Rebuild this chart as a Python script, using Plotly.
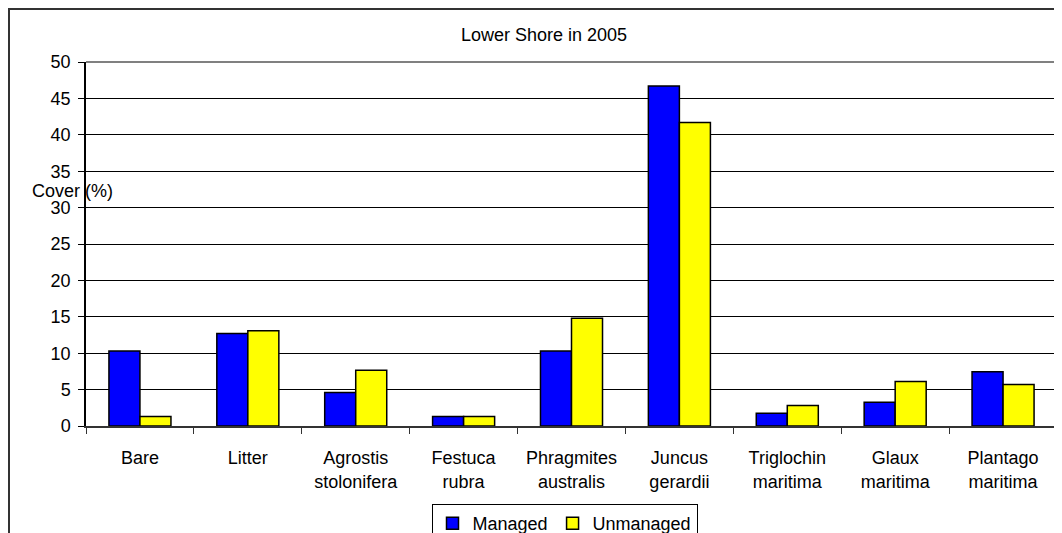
import plotly.graph_objects as go

categories = ["Bare", "Litter", "Agrostis<br>stolonifera", "Festuca<br>rubra",
              "Phragmites<br>australis", "Juncus<br>gerardii", "Triglochin<br>maritima",
              "Glaux<br>maritima", "Plantago<br>maritima"]
managed = [10.3, 12.7, 4.6, 1.3, 10.3, 46.7, 1.75, 3.25, 7.45]
unmanaged = [1.3, 13.1, 7.65, 1.3, 14.8, 41.7, 2.8, 6.1, 5.7]
y_ticks = [0, 5, 10, 15, 20, 25, 30, 35, 40, 45, 50]

FONT = "Liberation Sans, Arial, sans-serif"

O = 8  # page offset of the figure inside the browser window
W, H = 1062, 533
L, T = 86 - O, 62 - O
R = W - (1057 - O)
B = H - (426 - O)
pw, ph = W - L - R, H - T - B

def px_x(px):
    return (px - O - L) / pw

def px_y(py):
    return (H - B - (py - O)) / ph

fig = go.Figure()
fig.add_bar(x=categories, y=managed, name="Managed",
            marker=dict(color="#0000FF", line=dict(color="#000000", width=1.5)))
fig.add_bar(x=categories, y=unmanaged, name="Unmanaged",
            marker=dict(color="#FFFF00", line=dict(color="#000000", width=1.5)))

fig.update_layout(
    width=W, height=H,
    margin=dict(l=L, r=R, t=T, b=B, autoexpand=False),
    paper_bgcolor="white", plot_bgcolor="white",
    font=dict(family=FONT, size=18, color="#000000"),
    barmode="group", bargap=0.425, bargroupgap=0,
    title=dict(text="Lower Shore in 2005", x=px_x(544), xref="paper", xanchor="center",
               y=1 - (35 - O) / H, yref="container", yanchor="middle",
               font=dict(family=FONT, size=18, color="#000000")),
    showlegend=True,
    legend=dict(orientation="h", x=px_x(564.5), xanchor="center", y=px_y(504), yanchor="top",
                bordercolor="#000000", borderwidth=1, bgcolor="white",
                font=dict(family=FONT, size=18, color="#000000"),
                itemwidth=30, traceorder="normal", tracegroupgap=0),
    xaxis=dict(type="category", showgrid=False, showline=True, linecolor="#333333", linewidth=1.5,
               ticks="outside", tickson="boundaries", ticklen=6, tickcolor="#333333",
               tickfont=dict(family=FONT, size=18, color="#000000"), ticklabelstandoff=15),
    yaxis=dict(range=[0, 50], tickvals=y_ticks, showgrid=True, gridcolor="#000000", gridwidth=1,
               showline=True, linecolor="#000000", linewidth=1.5,
               ticks="outside", ticklen=6, tickcolor="#000000", ticklabelstandoff=4,
               tickfont=dict(family=FONT, size=18, color="#000000"), zeroline=False),
)

# plot-area border (grey top and right)
fig.add_shape(type="line", xref="paper", yref="paper", x0=0, x1=1, y0=1, y1=1,
              line=dict(color="#808080", width=2))
fig.add_shape(type="line", xref="paper", yref="paper", x0=1, x1=1, y0=0, y1=1,
              line=dict(color="#808080", width=2))
# outer chart border
fig.add_shape(type="rect", xref="paper", yref="paper",
              x0=px_x(9), x1=px_x(1085), y0=px_y(570), y1=px_y(9),
              line=dict(color="#333333", width=2), layer="below")

fig.add_annotation(text="Cover (%)", xref="paper", yref="paper", x=px_x(72), y=px_y(191),
                   xanchor="center", yanchor="middle", showarrow=False,
                   font=dict(family=FONT, size=18, color="#000000"))

fig.write_html("out.html")
